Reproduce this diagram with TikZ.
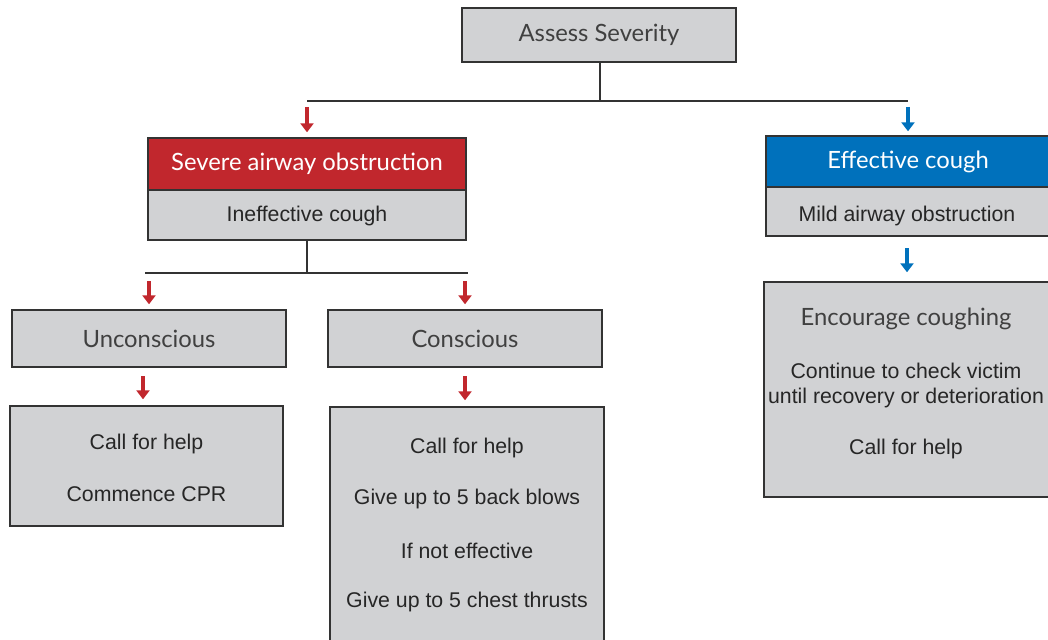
\documentclass[tikz,border=0pt]{standalone}
\usepackage{fontspec}
\setmainfont{Liberation Sans}
\newfontfamily\headfont{Lato}
\usetikzlibrary{arrows.meta}
\definecolor{boxgray}{HTML}{D1D2D4}
\definecolor{boxline}{HTML}{333333}
\definecolor{sevred}{HTML}{C1272D}
\definecolor{effblue}{HTML}{0071BC}
\begin{document}
\begin{tikzpicture}[x=1pt,y=-1pt,
  box/.style={draw=boxline, fill=boxgray, line width=1.4pt, inner sep=0pt},
  body/.style={font=\fontsize{21.3}{25}\selectfont, text=black!85, yshift=-2.5pt},
  head/.style={font=\headfont\fontsize{23.8}{28}\selectfont, text=black!75},
  conn/.style={draw=black!80, line width=1.6pt},
  fat/.style={line width=4pt, -{Triangle[length=9pt,width=13pt]}},
]
\useasboundingbox (0,0) rectangle (1048,639);

% boxes
\node[box, head, minimum width=274pt, minimum height=54pt] (assess) at (599,35) {Assess Severity};

\node[box, fill=sevred, head, text=white, minimum width=318pt, minimum height=52pt] (sev) at (307,164) {Severe airway obstruction};
\node[box, minimum width=318pt, minimum height=50pt] (sevlow) at (307,215) {};
\node[body] (sevt) at (307,213) {Ineffective cough};

\node[box, fill=effblue, head, text=white, minimum width=284pt, minimum height=51pt] (eff) at (908,161.5) {Effective cough};
\node[box, minimum width=284pt, minimum height=49pt] (efflow) at (908,211.5) {};
\node[body] (efft) at (907,213) {Mild airway obstruction};

\node[box, head, minimum width=274pt, minimum height=57pt] (uncon) at (149,338.5) {Unconscious};
\node[box, head, minimum width=274pt, minimum height=57pt] (con) at (465,338.5) {Conscious};

\node[box, minimum width=273pt, minimum height=120pt] (callbox) at (146.5,466) {};
\node[body] (c1) at (146.5,441) {Call for help};
\node[body] (c2) at (146.5,492) {Commence CPR};

\node[box, minimum width=274pt, minimum height=243pt] (conbox) at (467,528.5) {};
\node[body] (d1) at (467,445) {Call for help};
\node[body] (d2) at (467,496) {Give up to 5 back blows};
\node[body] (d3) at (467,548) {If not effective};
\node[body] (d4) at (467,599) {Give up to 5 chest thrusts};

\node[box, minimum width=286pt, minimum height=215pt] (encbox) at (907,389.5) {};
\node[head] (e1) at (906,319) {Encourage coughing};
\node[body] (e2) at (906,368) {Continue to check victim};
\node[body] (e3) at (906,395) {until recovery or deterioration};
\node[body] (e4) at (906,446) {Call for help};

% connectors
\coordinate (j1) at (600,101);
\coordinate (l1) at (307,101);
\coordinate (r1) at (908,101);
\draw[conn] (assess.south -| j1) -- (j1);
\draw[conn] (l1) -- (r1);

\coordinate (j2) at (307,273);
\coordinate (l2) at (145,273);
\coordinate (r2) at (468,273);
\draw[conn] (sevlow.south) -- (j2);
\draw[conn] (l2) -- (r2);

% arrows
\coordinate (a1) at (307,107);
\coordinate (a2) at (908,107);
\coordinate (a3) at (149,281);
\coordinate (a4) at (465,281);
\coordinate (a5) at (143,376);
\coordinate (a6) at (465,376);
\coordinate (a7) at (907,248);
\draw[fat, sevred, shorten >=5pt] (a1) -- (a1 |- sev.north);
\draw[fat, effblue, shorten >=4pt] (a2) -- (a2 |- eff.north);
\draw[fat, sevred, shorten >=5pt] (a3) -- (a3 |- uncon.north);
\draw[fat, sevred, shorten >=5pt] (a4) -- (a4 |- con.north);
\draw[fat, sevred, shorten >=6pt] (a5) -- (a5 |- callbox.north);
\draw[fat, sevred, shorten >=6pt] (a6) -- (a6 |- conbox.north);
\draw[fat, effblue, shorten >=9pt] (a7) -- (a7 |- encbox.north);
\end{tikzpicture}
\end{document}
